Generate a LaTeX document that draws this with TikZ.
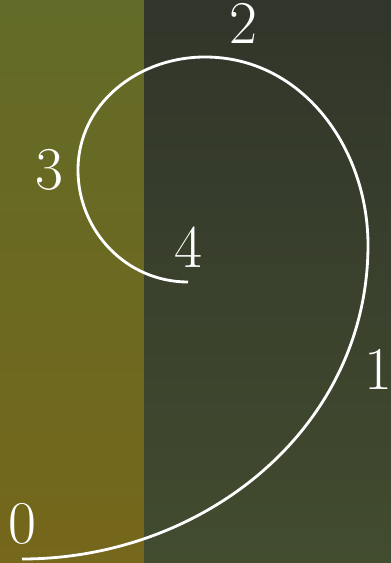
\documentclass[tikz,border=0pt]{standalone}
\usetikzlibrary{positioning}
\definecolor{oliveTop}{HTML}{626B28}
\definecolor{oliveBot}{HTML}{75671B}
\definecolor{darkTop}{HTML}{31352A}
\definecolor{darkBot}{HTML}{424C2F}
\tikzset{
  spiral/.style={white, thick},
  lbl/.style={text=white, font=\LARGE, inner sep=0pt},
}
\begin{document}
\begin{tikzpicture}[x=0.01cm, y=0.01cm]
  \useasboundingbox (0,0) rectangle (391,563);
  % two shaded panels
  \shade[top color=oliveTop, bottom color=oliveBot] (0,0) rectangle (144,563);
  \shade[top color=darkTop, bottom color=darkBot] (144,0) rectangle (391,563);
  % turning points of the spiral
  \coordinate (p0) at (22,4);
  \coordinate (p1) at (368,318);
  \coordinate (p2) at (205,506);
  \coordinate (p3) at (78,393);
  \coordinate (p4) at (188,281);
  \coordinate (q1) at (343,194);
  \coordinate (q2) at (243,501);
  \draw[spiral] (p0) to[out=0, in=-90] (p1)
                     to[out=90, in=0] (p2)
                     to[out=180, in=90] (p3)
                     to[out=-90, in=180] (p4);
  \node[lbl, above=4pt of p0] (n0) {0};
  \node[lbl, right=6pt of q1] (n1) {1};
  \node[lbl, above=5pt of q2] (n2) {2};
  \node[lbl, left=4pt of p3] (n3) {3};
  \node[lbl, above=4pt of p4] (n4) {4};
\end{tikzpicture}
\end{document}
